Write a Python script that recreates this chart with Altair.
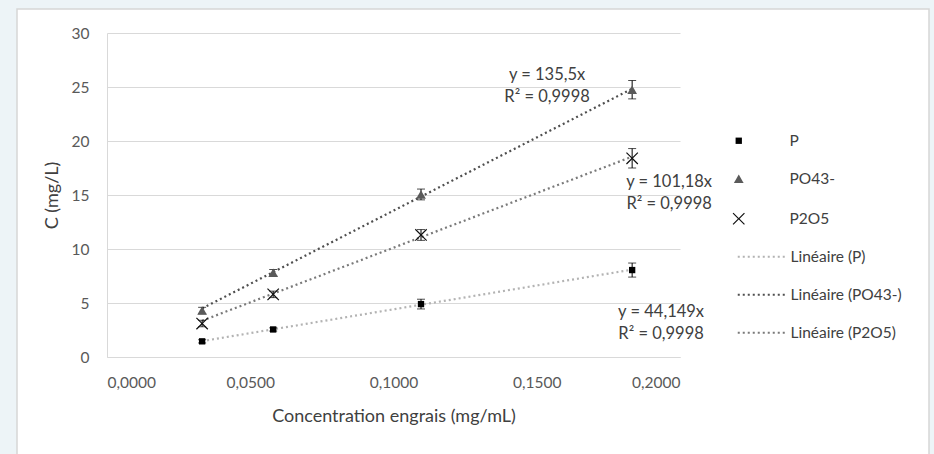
import altair as alt
import pandas as pd

# ---- data ----
x_conc = [0.0332, 0.0580, 0.1096, 0.1833]
series_names = ["P", "PO43-", "P2O5"]
p_vals = [1.45, 2.55, 4.90, 8.05]
po4_vals = [4.30, 7.80, 15.05, 24.75]
p2o5_vals = [3.10, 5.80, 11.30, 18.40]
p_err = [0.15, 0.15, 0.45, 0.65]
po4_err = [0.30, 0.30, 0.50, 0.85]
p2o5_err = [0.30, 0.30, 0.50, 0.90]

trend_names = ["Linéaire (P)", "Linéaire (PO43-)", "Linéaire (P2O5)"]
trend_x = [0.0332, 0.1833]
trend_p = [1.47, 8.09]
trend_po4 = [4.50, 24.84]
trend_p2o5 = [3.36, 18.55]

eq_lines = [["y = 44,149x", "R² = 0,9998"],
            ["y = 135,5x", "R² = 0,9998"],
            ["y = 101,18x", "R² = 0,9998"]]
eq_x = [0.1934, 0.1536, 0.1962]
eq_y = [4.17, 26.11, 16.2]

x_ticks = [0, 0.05, 0.10, 0.15, 0.20]
y_ticks = [0, 5, 10, 15, 20, 25, 30]

# ---- tables ----
rows = []
for name, vals, errs in zip(series_names, [p_vals, po4_vals, p2o5_vals], [p_err, po4_err, p2o5_err]):
    for xv, yv, ev in zip(x_conc, vals, errs):
        rows.append({"series": name, "x": xv, "y": yv, "lo": yv - ev, "hi": yv + ev})
pts = pd.DataFrame(rows)

trows = []
for name, vals in zip(trend_names, [trend_p, trend_po4, trend_p2o5]):
    for xv, yv in zip(trend_x, vals):
        trows.append({"trend": name, "x": xv, "y": yv})
trend = pd.DataFrame(trows)

eqs = pd.DataFrame({"x": eq_x, "y": eq_y, "label": eq_lines})

FONT = "Lato"
TXT = "#404040"
BG = "#edf4f7"
W, H = 573, 324
X_TITLE = "Concentration engrais (mg/mL)"
Y_TITLE = "C (mg/L)"

xscale = alt.Scale(domain=[0, 0.2], nice=False)
yscale = alt.Scale(domain=[0, 30], nice=False)

X_PATH = ("M-1,-0.86L-0.86,-1L0,-0.14L0.86,-1L1,-0.86L0.14,0L1,0.86L0.86,1"
          "L0,0.14L-0.86,1L-1,0.86L-0.14,0Z")

one = pd.DataFrame({"a": [0]})
# light backdrop strips outside the white chart frame
strip_left = alt.Chart(one).mark_rect(fill=BG).encode(
    x=alt.value(-107), x2=alt.value(-90), y=alt.value(-33), y2=alt.value(421))
strip_top = alt.Chart(one).mark_rect(fill=BG).encode(
    x=alt.value(-107), x2=alt.value(827), y=alt.value(-33), y2=alt.value(-24))
strip_right = alt.Chart(one).mark_rect(fill=BG).encode(
    x=alt.value(822), x2=alt.value(827), y=alt.value(-33), y2=alt.value(421))
frame = alt.Chart(one).mark_rect(fill=None, stroke="#d6d6d6", strokeWidth=1.5).encode(
    x=alt.value(-90), x2=alt.value(822), y=alt.value(-24), y2=alt.value(440))

base_x = alt.X("x:Q", scale=xscale, title=X_TITLE,
               axis=alt.Axis(values=x_ticks,
                             labelExpr="replace(format(datum.value, '.4f'), '.', ',')",
                             grid=False, ticks=False, domainColor="#d9d9d9",
                             labelPadding=18, titlePadding=17))
base_y = alt.Y("y:Q", scale=yscale, title=Y_TITLE,
               axis=alt.Axis(values=y_ticks, grid=True,
                             gridColor="#d9d9d9", ticks=False, domainColor="#d9d9d9",
                             labelPadding=18, titlePadding=10))

lines = alt.Chart(trend).mark_line(strokeDash=[2, 3], strokeWidth=2.2).encode(
    x=base_x, y=base_y,
    stroke=alt.Stroke("trend:N", sort=trend_names,
                      scale=alt.Scale(domain=trend_names, range=["#b3b3b3", "#4f4f4f", "#7a7a7a"]),
                      legend=alt.Legend(title=None, orient="none", legendX=668, legendY=216,
                                        symbolType="M-9,0L0.6,0", symbolSize=100,
                                        symbolStrokeWidth=2, symbolDash=[2, 3],
                                        labelOffset=0, rowPadding=21, padding=0)),
    detail="trend:N",
)

errs = alt.Chart(pts).mark_errorbar(ticks={"size": 8, "color": "black"}, rule={"color": "black"}).encode(
    x=alt.X("x:Q", scale=xscale, title=X_TITLE),
    y=alt.Y("lo:Q", scale=yscale, title=Y_TITLE),
    y2="hi:Q"
)

points = alt.Chart(pts).mark_point(filled=True, opacity=1).encode(
    x=base_x, y=base_y,
    color=alt.Color("series:N", sort=series_names,
                    scale=alt.Scale(domain=series_names, range=["#000000", "#5a5a5a", "#111111"]),
                    legend=alt.Legend(title=None, orient="none", legendX=624, legendY=100,
                                      symbolSize=80, labelOffset=43, rowPadding=21,
                                      padding=0, symbolOpacity=1)),
    shape=alt.Shape("series:N", sort=series_names,
                    scale=alt.Scale(domain=series_names, range=["square", "triangle-up", X_PATH])),
    size=alt.Size("series:N", sort=series_names,
                  scale=alt.Scale(domain=series_names, range=[40, 150, 200]), legend=None),
)

texts = alt.Chart(eqs).mark_text(fontSize=16.5, font=FONT, color=TXT, align="center",
                                 baseline="middle", lineHeight=22).encode(
    x=alt.X("x:Q", scale=xscale, title=X_TITLE),
    y=alt.Y("y:Q", scale=yscale, title=Y_TITLE),
    text="label"
)

chart = alt.layer(strip_left, strip_top, strip_right, frame, lines, errs, points, texts).properties(
    width=W, height=H,
    autosize=alt.AutoSizeParams(type="none"),
    padding={"left": 107, "top": 33, "right": 254, "bottom": 97},
    background="white",
).configure_view(stroke=None).configure_axis(
    labelFont=FONT, titleFont=FONT, labelFontSize=15.5, titleFontSize=18,
    labelColor="#595959", titleColor=TXT, titleFontWeight="normal",
).configure_legend(
    labelFont=FONT, labelFontSize=15.5, labelColor=TXT,
)

chart.save("out.html", embed_options={"renderer": "svg", "actions": False})
